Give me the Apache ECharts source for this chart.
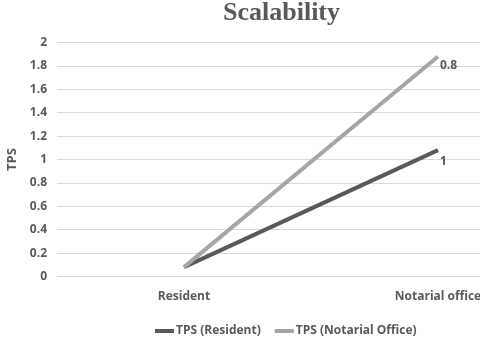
<!DOCTYPE html>
<html>
<head>
<meta charset="utf-8">
<script src="https://cdn.jsdelivr.net/npm/echarts@6/dist/echarts.min.js"></script>
<style>
    html, body { margin: 0; padding: 0; background: #fff; }
    #chart { width: 480px; height: 340px; }
</style>
</head>
<body>
<div id="chart"></div>
<script>
// data
var categories = ['Resident', 'Notarial office'];
var seriesNames = ['TPS (Resident)', 'TPS (Notarial Office)'];
var residentTps = [0.08, 1.08];
var notarialTps = [0.08, 1.88];
var endLabels = ['1', '0.8'];
var yTicks = [0, 0.2, 0.4, 0.6, 0.8, 1, 1.2, 1.4, 1.6, 1.8, 2];

var chartDom = document.getElementById('chart');
var myChart = echarts.init(chartDom);

var txt = '#595959';
var font = '"Open Sans", "Liberation Sans", sans-serif';

var option = {
    animation: false,
    title: {
        text: 'Scalability',
        left: 218,
        top: -5,
        textStyle: {
            fontFamily: '"Liberation Serif", serif',
            fontWeight: 'bold',
            fontSize: 26,
            color: txt
        }
    },
    legend: {
        left: 150,
        top: 320,
        itemWidth: 19,
        itemHeight: 4,
        itemGap: 14,
        icon: 'rect',
        textStyle: {
            fontFamily: font,
            fontWeight: 'bold',
            fontSize: 12,
            color: txt,
            padding: [0, 0, 0, -3]
        },
        data: seriesNames
    },
    grid: {
        left: 57,
        width: 508,
        top: 42.5,
        height: 234,
        containLabel: false,
        outerBoundsMode: 'none'
    },
    xAxis: {
        type: 'category',
        data: categories,
        boundaryGap: true,
        axisLine: { show: false },
        axisTick: { show: false },
        axisLabel: {
            margin: 14,
            fontFamily: font,
            fontWeight: 'bold',
            fontSize: 12,
            color: txt
        }
    },
    yAxis: {
        type: 'value',
        min: yTicks[0],
        max: yTicks[yTicks.length - 1],
        interval: 0.2,
        name: 'TPS',
        nameLocation: 'middle',
        nameGap: 38,
        nameTextStyle: {
            fontFamily: font,
            fontWeight: 'bold',
            fontSize: 13,
            color: txt
        },
        axisLabel: {
            margin: 10,
            fontFamily: font,
            fontWeight: 'bold',
            fontSize: 12,
            color: txt
        },
        splitLine: { lineStyle: { color: '#d9d9d9', width: 1 } }
    },
    series: [
        {
            name: seriesNames[0],
            type: 'line',
            data: residentTps,
            showSymbol: false,
            color: '#595959',
            lineStyle: { width: 4, color: '#595959' },
            endLabel: {
                show: true,
                formatter: endLabels[0],
                distance: 2,
                offset: [0, 11],
                fontFamily: font,
                fontWeight: 'bold',
                fontSize: 12,
                color: txt
            }
        },
        {
            name: seriesNames[1],
            type: 'line',
            data: notarialTps,
            showSymbol: false,
            color: '#a6a6a6',
            lineStyle: { width: 4, color: '#a6a6a6' },
            endLabel: {
                show: true,
                formatter: endLabels[1],
                distance: 2,
                offset: [0, 9],
                fontFamily: font,
                fontWeight: 'bold',
                fontSize: 12,
                color: txt
            }
        }
    ]
};

myChart.setOption(option);
</script>
</body>
</html>
